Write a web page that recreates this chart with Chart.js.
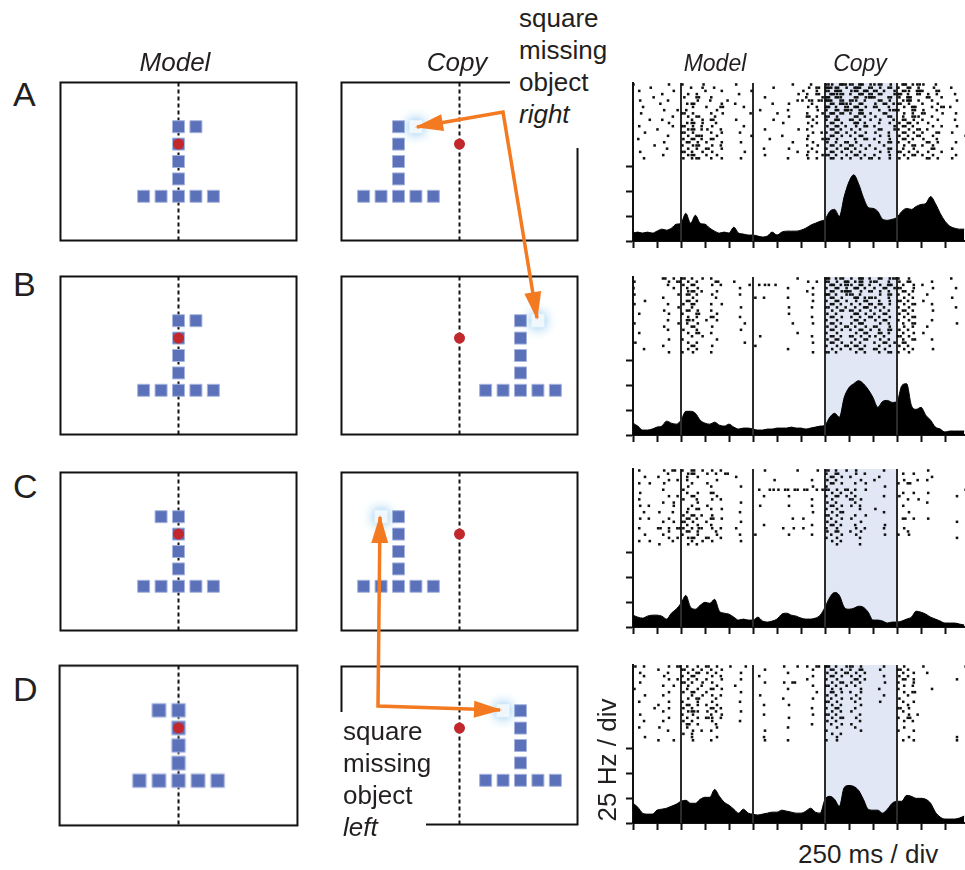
<!DOCTYPE html>
<html>
<head>
<meta charset="utf-8">
<script src="https://cdn.jsdelivr.net/npm/chart.js@4.4.1/dist/chart.umd.min.js"></script>
<style>
  html, body { margin: 0; padding: 0; background: #fff; overflow: hidden; }
  #fig { position: relative; width: 965px; height: 870px; overflow: hidden;
         font-family: "Liberation Sans", Arial, Helvetica, sans-serif; color: #231f20; }
  #fig canvas { position: absolute; }
  .t { position: absolute; white-space: nowrap; z-index: 2; }
  .hdr { font-style: italic; font-size: 26px; line-height: 26px; transform: translateX(-50%); }
  .hdr2 { font-style: italic; font-size: 23px; line-height: 23px; transform: translateX(-50%); }
  .row { font-size: 34px; line-height: 34px; }
  .note { font-size: 26px; line-height: 32px; background: #fff; box-sizing: border-box; }
  .unit { font-size: 26px; line-height: 26px; }
</style>
</head>
<body>
<div id="fig">
  <div class="t hdr" style="left:175px;top:49px">Model</div>
  <div class="t hdr" style="left:457px;top:49px">Copy</div>
  <div class="t hdr2" style="left:715px;top:52px">Model</div>
  <div class="t hdr2" style="left:860px;top:52px">Copy</div>

  <div class="t row" style="left:13px;top:77px">A</div>
  <div class="t row" style="left:13px;top:267px">B</div>
  <div class="t row" style="left:13px;top:469px">C</div>
  <div class="t row" style="left:13px;top:672px">D</div>

  <div class="t note" style="left:510px;top:0px;width:100px;height:148px;padding:2px 0 0 9px">square<br>missing<br>object<br><i>right</i></div>
  <div class="t note" style="left:335px;top:712px;width:91px;height:140px;padding:3px 0 0 8px">square<br>missing<br>object<br><i>left</i></div>

  <div class="t unit" style="left:607px;top:760px;transform:translate(-50%,-50%) rotate(-90deg)">25 Hz / div</div>
  <div class="t unit" style="left:798px;top:841px">250 ms / div</div>
</div>

<script>
// ---- shape data (grid units, +y = down) ----
const stemCells = [[0,-2],[0,-1],[0,0],[0,1],[-2,2],[-1,2],[0,2],[1,2],[2,2]];
const extraCells = [[1,-2],[1,-2],[-1,-2],[-1,-2]];   // A, B, C, D
const copyShifts = [-3.5, 3.5, -3.5, 3.5];
const fixation = [0,-1];

// ---- timing (ms) ----
const timeTicks = [0,250,500,750,1000,1250,1500,1750,2000,2250,2500,2750,3000,3250];
const hzTicks = [0,25,50,75];
const eventTimes = [500, 1250, 2000, 2750];
const copyWindow = [2000, 2750];
const PSTH_BIN = 50;

// ---- PSTH, Hz, one value per 50 ms from 0 ----
const psthA = [8,9,8,9,8,10,12,11,13,17, 18,28,18,26,18,17,13,10,8,9,
  8,14,8,7,6,6,5,4,5,9, 6,9,10,10,10,11,13,16,18,20,
  22,30,32,25,45,60,67,58,44,34, 33,30,22,21,22,24,30,33,32,35,
  37,38,45,38,28,20,15,13,12,12];
const psthB = [12,9,5,5,6,8,9,14,12,11, 15,24,24,22,15,12,11,13,10,9,
  11,8,6,7,7,6,5,5,6,6, 7,7,7,8,7,7,6,7,8,9,
  10,18,22,18,38,48,52,55,52,46, 38,28,34,35,33,34,50,52,30,26,
  28,20,15,8,6,3,4,4,4,4];
const psthC = [12,10,9,11,12,12,11,8,14,18, 24,32,20,18,22,25,24,28,16,14,
  13,10,7,8,7,7,10,6,5,6, 8,13,14,12,11,9,8,8,9,12,
  20,30,35,32,20,18,19,21,20,15, 7,7,6,4,5,5,6,8,10,16,
  15,13,10,8,6,4,4,4,3,2];
const psthD = [20,16,10,9,9,13,14,15,17,19, 22,23,20,20,24,26,26,34,27,21,
  18,14,10,14,10,9,8,9,10,11, 11,13,12,11,10,10,12,15,11,10,
  24,27,24,17,36,38,37,33,24,14, 13,13,10,14,20,22,22,28,27,25,
  25,24,20,11,6,4,4,4,5,7];

// ---- rasters: one row per trial, one char per 50 ms bin
// '.' none, a-e one spike at 5/15/25/35/45 ms into the bin, 2/3 = several
const rasterA = [
  "a.... ..c.. b...d ..... .c... ..... ...b. ..a.. 2c.3b 2.3.c b2.d. .3.b2 c..a. .....",
  "...d. ..... ..a.c .e... ..... ....b ..... .d.2. 3b2.c .3b.2 .c.2. b.2.c ..d.. .b...",
  ".b... ...c. ..... a..c. ....d ..... ..... c..b. 2.3b. c2.3. 2.b.c .2c.3 b..2. ....d",
  "..... .a... .c.b. ..... ..a.. ..... ....c .b.2. .3c2. b.3.2 .2..c 3.b.2 .c.b. ..a..",
  "....b ..... d..2. .b... ..... ..c.. ..... .a..c 3.2b. .2.c3 b..2. c.3.. .2..b .....",
  ".c... ..b.. ...c. .a..d ..... ..... ....b bdbdb 3b.2. 2c.b. .2.c. .b3.c ..b.. ..c..",
  "..... d.... .b2.. ...c. .b... ....a ..c.. ..b.. .2.3c b.2.. c.2.b 2.c.. b..c. .....",
  "..a.. ..... ..c.. b..2. ...a. ..... ..... .c.b. 3.b.2 .3.c. 2..b. .c.3. ..b.2 .a...",
  "..... .c..b .a... ..c.. ..... .c... ..b.. ...c. b.2.3 c.2.. .b.c2 b..2. c..b. .....",
  ".d... ..... 2.c.. .b.d. ....c ..... a.... .b..c .3.2. b.3.c ..2.. .c.b. 2...c ..b..",
  "..... ...b. .c.2. ..a.. ..... ..... ..c.. .2.b. 2.c.. .2.b. c..2. .b.2c ..b.. .....",
  "...c. .a... ..b.c .2... .c... ....b ..... ..c.. b.3.. 2.b.c .c..b .2.c. b..c. ..a..",
  "..... ..c.. .b2.c ..b.. ..... ..... .b... .c.b. .2.c. .3.b. .b.c. c.2.b .c... .....",
  ".b... ...b. 2.c.b .c... ...a. ..... ..... ..b.. c.2.b .c.2. b...c .2.b. ..c.b ..c..",
  "..... a.... .c2.b c..b. ..... ..c.. ....c .b... .2.b. c.b.. .2..c b.c.2 .b... .....",
  "..c.. ..... 2.c.. .b.c. ..b.. ..... ..... ..c.b b.2.c .b.c. c..b. .2.c. b..2. .c...",
  "..... ..b.. .c.2b ..c.. ....d ..... .a... .c... .2.c. b.2.. .c.b. c.b.2 ..c.. ....b",
  ".a... ..... c.2.b .2... ..... ...c. ..... .b..c 2.c.. .b.2. b..c. .2.b. c..b. .....",
  "..... .c... .2.c. b..c. ..c.. ..... ...b. ..c.. c.b.2 .c... .b.2. b.c.. .2.c. ..b..",
  "....c ..... b.c2. .c.b. ..... ..... ..... .b.c. .2.b. 2.c.b ..b.. .c.2. b.c.. .....",
  "..... ..a.. .c.b. 2..c. ..... ..b.. ..c.. ..b.. b.c.2 .b.c. c..2. .b.c. ..2.. .c...",
  ".c... ..... 2.b.c .c... ...b. ..... ....b .c.b. .2.c. c.b.. .c.b. 2.c.b .c..b .....",
  "..... .b... .c2.. b.c.. ..... ..c.. ..... .b..c 2.b.c .2.b. b..c. .c.2. b.c.. ..b..",
  "..b.. ..... c.b2. .b.c. ..c.. ..... ..b.. .c.b. .2.c. b.c.2 .b.c. c.b.. .2.c. .c..."
];
const rasterB = [
  "..... .2.c. 2.b.c .b... ..... ..... ....b ..... 3.b2. c.3.b .2.c2 b.c.. ..... .b...",
  "b.... ..c.2 .c.b. ..2.. .a... ..... ..... .c.b. 2.c.3 .b2.c 2..b. c.2.. ..b.. ....c",
  "..... ..b.. c.2.. .c.b. ....b .bcbd ..... ..... .3.b2 c.2.b .c.3. .b.c. b.... .....",
  "a.... ...c. .b.c. ..... ..b.. ..... ..b.. ..c.. b.2.c .3.b. b.2.c 2..c. ..c.. ..b..",
  "..... ..... .c2.b ..c.. ..... ..... ..... .b... .2.c3 b.c.2 .c.b. .2.b. ..... .....",
  "b.... ....c .2.b. .c... ..b.. ..... ..... ..c.. 3.b.c 2.b.. .c.2. b.c.. .b... .....",
  "..... .b... ..c.. ..b.. ..... c.b.. ..b.. ..... .2.c. .3.b2 c..b. .c.b. ..... .c...",
  "..c.. ..... .2.b. ..... ..... ..... ..... ..c.. b.2.c .c.2. .b.c. 2.b.. c.... .....",
  "b.... ..b.. c.2.. .b.c. ..... ..... ..... ..... .2.b. c.b.2 .2.c. .c.2. ..b.. .....",
  "..... ....c ..b.. ..... ..c.. ..... ..c.. ..b.. 2.c.b .b.3. c.b.. b.c.. ..... ..b..",
  "..... .c... .2.c. .b... ..... ..... ..... ..... .c.2. 2.b.c .c.b. .2.b. ..c.. .....",
  ".b... ..c.. b..2. ..c.. ..... ..... ..c.. ..... c.b.. .3.c. b.2.. c.b.. ..... .....",
  "..... ..... .c.b. .2... ..b.. ..... ..... ..b.. .2.c. c.b.2 .b.c. .c.2. ..... .....",
  "..... ..b.. .2c.. b.c.. ..... ..... ..... ..... b.c.. .2.b. c.2.. b.c.. ..b.. .....",
  "b.... ....c .b.c. ..... ...b. ..... ...b. ..c.. .2.b. c.3.. .c.b. .b.2. ..... ..c..",
  "..... .c... ..2.. .c... ..... ..... ..... ..... c.b.2 .b.c. 2..c. .c.b. .b... .....",
  "..... ..b.. c..b. ..... ..c.. ..... ..... ..... .2.c. b.2.c .b.2. c.b.. ..... .....",
  ".b... ..... .c.2. .b... ..... ..... ....b ..... b.c.. .c.2. .2.b. .b.c. c.... .....",
  "..... ..... ..b.c ..... ..... .c... ..... ..b.. .2.b. 2.c.b c.b.. 2.c.. ..... .....",
  "..... ..c.. b.... ..c.. ..... ..... ..... ..... c.2.. .b.2. .c.b. .b.2. ..b.. .....",
  "c.... ..... .c.b. ..... ...b. ..... ..... ..c.. .2.c. c.b.. b.2.c .2... ..... .....",
  "..... .b... ..2.. .c... ..... c.... ..... ..... b.c.2 .2.b. .b.c. c.b.. ..... .....",
  "..b.. ..... .c.b. ..... ..... ..... ..b.. ..... .c.b. b.2.. 2.c.. .c.b. ..c.. .....",
  "..... ..c.. b.c.. .b... ..... ..... ..... ..c.. 2.b.. .c.b. .b.2. b.c.. ..... ....."
];
const rasterC = [
  ".b... .c.2. b.2.c .c.b. ..... ..c.. ....b ...c. 2.b.c .c... ..b.. ..... .c... .....",
  "..... ..b.. .c2.. c.b.2 ..... ..... ..... ..... b.2.. .c.b. ..... .b.c. ..... .....",
  "..c.. b.... .b.c. ..... .c... ..... ..... ..... .2.c. b.... .b... ..... ..b.. .....",
  "..... ..c.b .b... ..c.. ..... ....c ..... ..b.. c.b.. ..c.. b.... .c..b .b... .....",
  ".b.c. .c... ..b.. c.... ..... ..... ..... ..... .2.c. .b.c. ..... b.2.. ..... .....",
  "..... ..... .c... .b... ..c.. ..... ..... ..c.. b.... ..... ..c.. ..... ..... .....",
  "..... .b... c.... ..... ..... .b.cb bdbdb db.bc 2.c.2 .b.c. ..... ..... ..... ....b",
  ".c... ..... .b.c. .2... ..... ..... ..... ..... .c.b. c.... ..... .b.c. .c... .....",
  "..... ..c.b ..2.. ..c.. ..... ..b.. ..c.. ..... b.2.c .b... ..b.. c.... ..... ..c..",
  ".b... ..... c..b. .c.b. ..... ..... ..... ..b.. .c... 2.c.. ..... ..b.c ..... .....",
  "..... .b.c. ...c. ..... ..c.. ..... ..... ..... c.b.. .b... ..... ..... .b... .....",
  ".c.b. ...c. ..b.. c.... ..... .c... ..c.. ..b.. .2.c. c.b.. ..... .b... ..... ....c",
  "..... ..... .c.2. .b.c. ..... ..... ..... ..... b.c.. ..b.. c.... ..... ..... .....",
  "..b.. c..b. .b... ..... ..b.. ..... ..... ..c.. .c.2. ..... ..b.. ..c.. ..... .....",
  "..... ..... c.2.b .c... ..... ..... ..... ..... 2.c.. .b.c. ..... ..... ..... .....",
  ".c.b. ..c.. .2.b. .2.c. ..... ..... ...b. c.... .b.c. c.... ..... .2.c. .c... .....",
  "..... .b.c. 2.c.. b.... ..c.. ..... ..... ..... c.b.. ..c.. ..... ..... ..... ..c..",
  "..... ..... .b.c. .b... ..... ..b.. ..... ..b.. .2.b. .b... ..c.. ..... ..... .....",
  ".b... 2.c.2 c.bdb .c.b. .c... ..... .b.c. c.... b.c.. .c.b. ..b.. .c... ..... .....",
  "..... ..c.. .2.c. ..b.. ..... ..... ..... ..... c.2.. b.c.. ..... ..b.. ..... .....",
  "..c.. .b... b..c. ..c.. ..b.. c.... ..c.. ..b.. .b.c. .c... ..c.. b.c.. ..... .....",
  "..... ..c.b .c2.. 2..b. ..... ..... ..... ..... b.c.. ..b.. ..... ..... ..... ..c..",
  ".b.c. ...b. ..b.c .c... ..c.. ..... ..... ..... .c.b. ..... ..... ..... ..... .....",
  "..... c.... .c.b. ..... ..... ..... ..... ..... ..c.. ..b.. ..... ..... ..... ....."
];
const rasterD = [
  "c.b.. ..c.2 .b.c. 2.c.. b..c. ..... .c..b .b.2. 3.b.c 2.c.. ..b.. .c... c.... ....b",
  "..... b.... 2.c.b .b.c. ..... ..c.. ..... ..c.. .2.c. b.2.. .c... 2.b.. ..... .....",
  ".c... ..b.. .c.2. c.b.. ..c.. ..... ..b.. ..... c.b.2 .c.b. ..... .b.c. .b... .....",
  "..b.. .c... b.2.. .c.b. ..... .b... ..... ..c.. .2.c. c.b.. ..b.. c.b.. ..... .....",
  "..... ..c.b .c.b. b..c. ..c.. ..... ..... .b... b.c.. .2.b. ..... .2.c. ..... ..c..",
  ".c... ..... 2.b.c .c... ..... ..c.. .c.2. ..... .c.2. c.b.. ..c.. b..c. ..... .....",
  "..... .b.c. .c..b ..c.. .b... ..... ..... ..c.. 2.b.c .b... ..... .c.b. ..... .....",
  "b.... ..... .b.c. .2.c. ..... ..... ..b.. ..... .c.b. ..c.. .b... b.... ..b.. .....",
  "..... ..c.. c.2.. b.... ..c.. ..... ..... ...b. .2.c. b.c.. ..... .c.2. ..... .....",
  "..c.. .b... ..b.c .c.b. ..... .c... ..... ..... c.b.. .c... ..b.. ..b.. ..... .....",
  "..... ..... .c.2. ..b.. ..... ..... .b... ..c.. .b.c. c.b.. ..... c.... ..... ....c",
  ".b... ..c.. b..c. .c... ..b.. ..... ..... ..... 2.c.. .b... .c... .b.c. ..... .....",
  "..... b.... .2.c. b.c.. ..... ..b.. ..c.. ..... .c.b. ..c.. ..... ..b.. ..... .....",
  "....c ..c.. c.b.. .2.b. ..... ..... ..... ..b.. b.2.. .b... ..... 2.c.. ..... .....",
  "..... .b... .c2c. c.b.. ..c.. ..... ..... ..... .c.b. c.... ..... .b... ..... .....",
  ".c... ..... b.c.. .b.c. ..... ..b.. ..... ..c.. 2.b.. ..b.. ..... ..c.b ..... .....",
  "..... ..c.. .b.c. 2c.b. ..... ..... ..c.. ..... .c.2. .c... ..... b.2.. ..... .....",
  "..b.. .b... c.b.. .c... ..b.. ..... ..... ..... c.b.. ..b.. ..... .c.b. ..... .....",
  "..... ..... .2.c. ..b.. ..... ..... ..... ..b.. .b.c. c.... ..... ..... ..... .....",
  ".b... c.... .b... ..c.. ..... ..... ..b.. ..... ..c.. .b... ..... .c... ..... .....",
  "..... ..b.. ..c.b .b... ..... ..c.. ..... ..... b.... ..c.. ..... b..c. ..... .....",
  "..... ..... c.b.. ..... ..... ..... ..... ..... .c.b. ..... ..... ..... ..... .....",
  "..c.. ..... ..b.. ..c.. ..... ..b.. ..... ..... ..c.. ..... ..... ..c.. ..... ..c..",
  "..... b..c. ..c.. .b... ..... ..c.. ..b.. ..... b.c.. ..... ..... .b.c. ..... ..c.."
];
const rasters = [rasterA, rasterB, rasterC, rasterD];
const psths = [psthA, psthB, psthC, psthD];

// ---- annotation arrows (page pixels) ----
const arrowAB = [[417,127],[503,112],[537,318]];
const arrowCD = [[380,517],[378,706],[500,710]];

// ---- layout ----
const boxTops = [82, 276, 472, 666];
const rasterTops = [83, 277, 469, 665];
const BOX_W = 237, BOX_H = 159, RASTER_H = 158, HZ_MAX = 160;
const modelLeft = 60, copyLeft = 341, rasterLeft = 633, pageRight = 965;
const PX_PER_MS = 24 / 250;
const TIME_MAX = (pageRight - rasterLeft) / PX_PER_MS;
const modelCell = [[17.5,17.5],[17.5,17.5],[17.5,17.5],[19.5,17.5]];
const modelSq = [12, 12, 12, 13.5];
const TRIAL_TOP = 158.5, TRIAL_STEP = 3.25;
const BLUE = '#5b71b9', RED = '#c1272d', ORANGE = '#f37a21';

Chart.defaults.animation = false;
Chart.defaults.responsive = false;
Chart.defaults.maintainAspectRatio = false;
Chart.defaults.events = [];
Chart.defaults.plugins.legend.display = false;
Chart.defaults.plugins.tooltip.enabled = false;

const fig = document.getElementById('fig');

function makeCanvas(left, top, w, h, z) {
  const c = document.createElement('canvas');
  c.width = w; c.height = h;
  c.style.cssText = `left:${left}px;top:${top}px;width:${w}px;height:${h}px;z-index:${z}`;
  fig.appendChild(c);
  return c;
}

// build once to learn the margins round the chart area, then rebuild so the
// chart area lands exactly on the wanted page rectangle
function pinned(rect, z, makeConfig) {
  let cv = makeCanvas(rect.left, rect.top, rect.w + 80, rect.h + 80, z);
  let ch = new Chart(cv, makeConfig());
  const a = ch.chartArea;
  const m = { l: a.left, t: a.top, r: cv.width - a.right, b: cv.height - a.bottom };
  ch.destroy(); cv.remove();
  cv = makeCanvas(rect.left - m.l, rect.top - m.t, rect.w + m.l + m.r, rect.h + m.t + m.b, z);
  return new Chart(cv, makeConfig());
}

const framePlugin = {
  id: 'frame',
  afterDatasetsDraw(chart) {
    const { ctx, chartArea: a } = chart;
    ctx.save();
    ctx.strokeStyle = '#111';
    ctx.lineWidth = 2;
    ctx.strokeRect(a.left, a.top, a.right - a.left, a.bottom - a.top);
    ctx.restore();
  }
};

const glowPlugin = {
  id: 'glow',
  beforeDatasetDraw(chart, args) {
    if (!chart.data.datasets[args.index].glow) return;
    chart.ctx.save();
    chart.ctx.shadowColor = 'rgba(105,180,235,0.95)';
    chart.ctx.shadowBlur = 12;
  },
  afterDatasetDraw(chart, args) {
    if (chart.data.datasets[args.index].glow) chart.ctx.restore();
  }
};

const arrowHeads = {
  id: 'arrowHeads',
  afterDatasetsDraw(chart) {
    const ctx = chart.ctx, L = 26, W = 8.5;
    chart.data.datasets.forEach((ds, i) => {
      if (!ds.heads) return;
      const p = chart.getDatasetMeta(i).data, n = p.length;
      ctx.save();
      ctx.fillStyle = ds.borderColor;
      [[p[1], p[0]], [p[n - 2], p[n - 1]]].forEach(([a, b]) => {
        const ang = Math.atan2(b.y - a.y, b.x - a.x);
        const c = Math.cos(ang), s = Math.sin(ang);
        ctx.beginPath();
        ctx.moveTo(b.x + 2 * c, b.y + 2 * s);
        ctx.lineTo(b.x - L * c + W * s, b.y - L * s - W * c);
        ctx.lineTo(b.x - L * c - W * s, b.y - L * s + W * c);
        ctx.closePath();
        ctx.fill();
      });
      ctx.restore();
    });
  }
};

const toPts = arr => arr.map(([x, y]) => ({ x, y }));

function makeBoxChart(left, top, cell, sq, squares, missing, dot) {
  const hx = BOX_W / 2 / cell[0], hy = BOX_H / 2 / cell[1];
  const makeConfig = () => {
    const datasets = [
      { data: [{ x: 0, y: -hy }, { x: 0, y: hy }], borderColor: '#111', borderWidth: 2,
        borderDash: [4, 3], pointRadius: 0, order: 4 },
      { data: toPts(squares), showLine: false, pointStyle: 'rect', pointRadius: sq / Math.SQRT2,
        pointBackgroundColor: BLUE, pointBorderColor: '#a7b4de', pointBorderWidth: 1, order: 3 }
    ];
    if (missing) {
      datasets.push({ data: toPts([missing]), showLine: false, pointStyle: 'rect',
        pointRadius: sq / Math.SQRT2, pointBackgroundColor: '#fff', pointBorderColor: '#eef7fd',
        pointBorderWidth: 1, glow: true, order: 2 });
    }
    datasets.push({ data: toPts([dot]), showLine: false, pointStyle: 'circle', pointRadius: 5.5,
      pointBackgroundColor: RED, pointBorderWidth: 0, order: 1 });
    return {
      type: 'line',
      data: { datasets },
      options: {
        devicePixelRatio: 1,
        layout: { padding: 6 },
        scales: {
          x: { type: 'linear', display: false, min: -hx, max: hx },
          y: { type: 'linear', display: false, min: -hy, max: hy, reverse: true }
        }
      },
      plugins: [glowPlugin, framePlugin]
    };
  };
  pinned({ left, top, w: BOX_W, h: BOX_H }, 1, makeConfig);
}

function rasterPoints(rows) {
  const offs = { a: [5], b: [15], c: [25], d: [35], e: [45], '2': [12, 37], '3': [8, 25, 42], '4': [6, 18, 31, 44] };
  const pts = [];
  rows.forEach((row, i) => {
    const y = TRIAL_TOP - i * TRIAL_STEP;
    [...row.replace(/ /g, '')].forEach((ch, k) => {
      (offs[ch] || []).forEach(o => pts.push({ x: k * PSTH_BIN + o, y }));
    });
  });
  return pts;
}

function makeRasterChart(top, rows, psth) {
  const tick = 7;
  const axis = (ticks, extra) => Object.assign({
    type: 'linear',
    border: { display: true, color: '#111', width: 2 },
    grid: { drawOnChartArea: false, drawTicks: true, tickLength: tick, tickWidth: 2, tickColor: '#111' },
    ticks: { display: false },
    afterBuildTicks: s => { s.ticks = ticks.map(v => ({ value: v })); }
  }, extra);
  const makeConfig = () => ({
    type: 'line',
    data: { datasets: [
      { data: rasterPoints(rows), showLine: false, pointStyle: 'rect',
        pointRadius: 1.8, pointBorderWidth: 0, pointBackgroundColor: '#111', order: 1 },
      ...eventTimes.map(t => ({ data: [{ x: t, y: 0 }, { x: t, y: HZ_MAX }], borderColor: '#2b2b2b',
        borderWidth: 2, pointRadius: 0, order: 2 })),
      { data: psth.map((v, i) => ({ x: i * PSTH_BIN, y: v })), fill: 'origin', backgroundColor: '#000',
        borderColor: '#000', borderWidth: 1, pointRadius: 0, cubicInterpolationMode: 'monotone', order: 3 },
      { data: copyWindow.map(t => ({ x: t, y: HZ_MAX })), fill: 'origin', backgroundColor: '#e1e7f5',
        borderWidth: 0, pointRadius: 0, order: 4 }
    ] },
    options: {
      devicePixelRatio: 1,
      layout: { padding: { left: 20, top: 4, right: 0, bottom: 6 } },
      scales: {
        x: axis(timeTicks, { min: 0, max: TIME_MAX }),
        y: axis(hzTicks, { min: 0, max: HZ_MAX })
      }
    }
  });
  pinned({ left: rasterLeft, top, w: pageRight - rasterLeft, h: RASTER_H }, 1, makeConfig);
}

boxTops.forEach((top, r) => {
  const model = stemCells.concat([extraCells[r]]);
  makeBoxChart(modelLeft, top, modelCell[r], modelSq[r], model, null, fixation);
  const sh = copyShifts[r];
  const copy = stemCells.map(([x, y]) => [x + sh, y]);
  const missing = [extraCells[r][0] + sh, extraCells[r][1]];
  makeBoxChart(copyLeft, top, [17.5, 17.5], 12, copy, missing, fixation);
  makeRasterChart(rasterTops[r], rasters[r], psths[r]);
});

// arrow overlay
const ov = makeCanvas(0, 0, pageRight, 870, 3);
new Chart(ov, {
  type: 'line',
  data: {
    datasets: [arrowAB, arrowCD].map(a => ({
      data: toPts(a), borderColor: ORANGE, borderWidth: 3.5, pointRadius: 0,
      borderJoinStyle: 'miter', heads: true
    }))
  },
  options: {
    devicePixelRatio: 1,
    layout: { padding: 0 },
    scales: {
      x: { type: 'linear', display: false, min: 0, max: pageRight },
      y: { type: 'linear', display: false, min: 0, max: 870, reverse: true }
    }
  },
  plugins: [arrowHeads]
});
</script>
</body>
</html>
